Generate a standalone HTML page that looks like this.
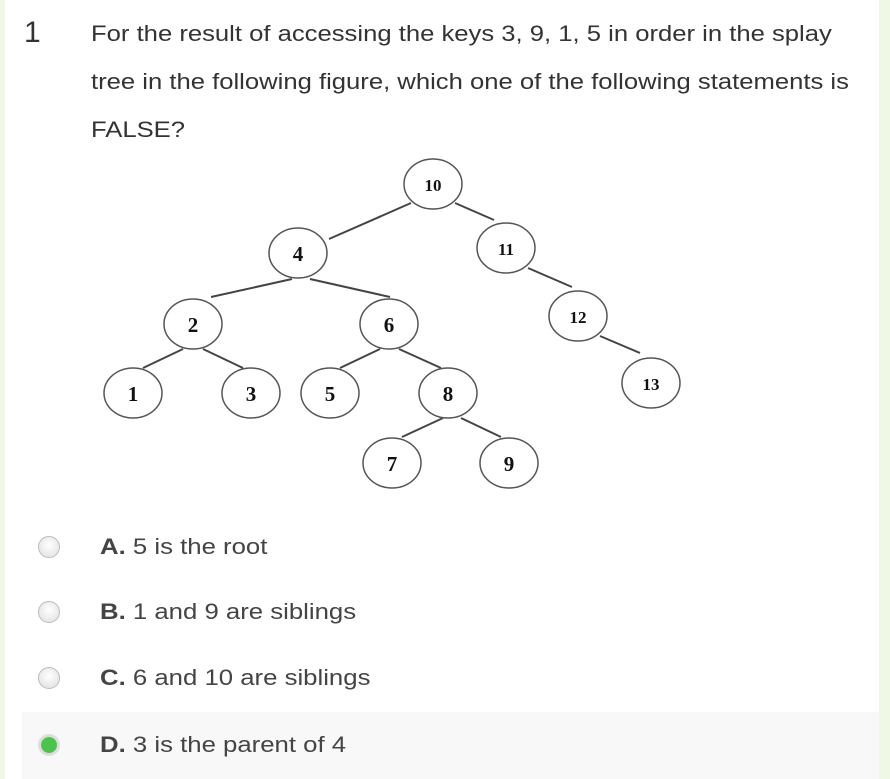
<!DOCTYPE html>
<html><head><style>
body{margin:0;width:890px;height:779px;background:#eef8e4;font-family:"Liberation Sans",sans-serif;overflow:hidden;position:relative}
.card{position:absolute;left:5px;top:0;width:874px;height:779px;background:#fff}
.t{position:absolute;color:#333;font-size:22px;white-space:nowrap;transform:scaleX(1.165);transform-origin:0 0}
.opt{position:absolute;left:100px;font-size:22px;color:#444;white-space:nowrap;transform:scaleX(1.17);transform-origin:0 0}
.r{position:absolute;left:38px;width:22px;height:22px;border-radius:50%;background:radial-gradient(circle at 50% 40%,#fff,#ddd);border:1px solid #bbb;box-sizing:border-box}
</style></head><body>
<div class="card"></div>
<div style="position:absolute;left:22px;top:712px;width:857px;height:67px;background:#f8f8f8"></div>
<div class="t" style="left:24px;top:16px;font-size:30px;transform:none">1</div>
<div class="t" style="left:91px;top:21px">For the result of accessing the keys 3, 9, 1, 5 in order in the splay</div>
<div class="t" style="left:91px;top:69px">tree in the following figure, which one of the following statements is</div>
<div class="t" style="left:91px;top:117px">FALSE?</div>
<svg style="position:absolute;left:0;top:0" width="890" height="779">
<g stroke="#444" stroke-width="2">
<line x1="411" y1="203" x2="329" y2="239"/><line x1="455" y1="203" x2="494" y2="220"/>
<line x1="528" y1="268" x2="572" y2="287"/><line x1="600" y1="336" x2="640" y2="353"/>
<line x1="292" y1="279" x2="211" y2="297"/><line x1="310" y1="279" x2="390" y2="297"/>
<line x1="183" y1="349" x2="143" y2="368"/><line x1="203" y1="349" x2="243" y2="368"/>
<line x1="380" y1="349" x2="340" y2="368"/><line x1="399" y1="349" x2="441" y2="368"/>
<line x1="443" y1="418" x2="402" y2="437"/><line x1="461" y1="418" x2="501" y2="437"/>
</g>
<g fill="#fff" stroke="#555" stroke-width="1.5">
<ellipse cx="433" cy="184" rx="29" ry="25"/><ellipse cx="298" cy="253" rx="29" ry="25"/>
<ellipse cx="506" cy="248" rx="29" ry="25"/><ellipse cx="193" cy="324" rx="29" ry="25"/>
<ellipse cx="389" cy="324" rx="29" ry="25"/><ellipse cx="578" cy="316" rx="29" ry="25"/>
<ellipse cx="133" cy="393" rx="29" ry="25"/><ellipse cx="251" cy="393" rx="29" ry="25"/>
<ellipse cx="330" cy="393" rx="29" ry="25"/><ellipse cx="448" cy="393" rx="29" ry="25"/>
<ellipse cx="651" cy="383" rx="29" ry="25"/><ellipse cx="392" cy="463" rx="29" ry="25"/>
<ellipse cx="509" cy="463" rx="29" ry="25"/>
</g>
<g font-family="Liberation Serif,serif" font-weight="bold" font-size="21" text-anchor="middle" fill="#111">
<text x="433" y="191" font-size="17">10</text><text x="298" y="261">4</text>
<text x="506" y="255" font-size="17">11</text><text x="193" y="332">2</text>
<text x="389" y="332">6</text><text x="578" y="323" font-size="17">12</text>
<text x="133" y="401">1</text><text x="251" y="401">3</text>
<text x="330" y="401">5</text><text x="448" y="401">8</text>
<text x="651" y="390" font-size="17">13</text><text x="392" y="471">7</text>
<text x="509" y="471">9</text>
</g>
</svg>
<div class="r" style="top:536px"></div>
<div class="r" style="top:601px"></div>
<div class="r" style="top:667px"></div>
<div class="r" style="top:734px;background:#4cc44c;border:3px solid #ddd"></div>
<div class="opt" style="top:534px"><b>A.</b> 5 is the root</div>
<div class="opt" style="top:599px"><b>B.</b> 1 and 9 are siblings</div>
<div class="opt" style="top:665px"><b>C.</b> 6 and 10 are siblings</div>
<div class="opt" style="top:732px"><b>D.</b> 3 is the parent of 4</div>
</body></html>
